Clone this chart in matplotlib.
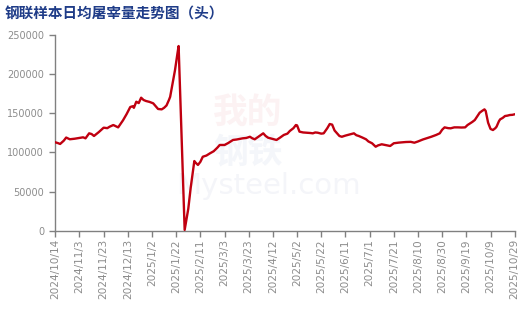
import matplotlib
matplotlib.use("Agg")
import matplotlib.pyplot as plt
import pandas as pd

dates = [
    "2024-10-14", "2024-10-16", "2024-10-18", "2024-10-21", "2024-10-23", "2024-10-26", "2024-10-30",
    "2024-11-03", "2024-11-06", "2024-11-08", "2024-11-11", "2024-11-13", "2024-11-15", "2024-11-19",
    "2024-11-23", "2024-11-26", "2024-11-28", "2024-12-01", "2024-12-03", "2024-12-05", "2024-12-09",
    "2024-12-12", "2024-12-15", "2024-12-17", "2024-12-18", "2024-12-20", "2024-12-22", "2024-12-24",
    "2024-12-26", "2024-12-28", "2024-12-31", "2025-01-03", "2025-01-05", "2025-01-07", "2025-01-10",
    "2025-01-12", "2025-01-14", "2025-01-16", "2025-01-17", "2025-01-19", "2025-01-20", "2025-01-21",
    "2025-01-22", "2025-01-23", "2025-01-24", "2025-01-29", "2025-02-01", "2025-02-03", "2025-02-06",
    "2025-02-07", "2025-02-09", "2025-02-11", "2025-02-13", "2025-02-16", "2025-02-19", "2025-02-22",
    "2025-02-25", "2025-02-27", "2025-03-03", "2025-03-06", "2025-03-10", "2025-03-13", "2025-03-18",
    "2025-03-21", "2025-03-24", "2025-03-26", "2025-03-28", "2025-03-31", "2025-04-02", "2025-04-04",
    "2025-04-06", "2025-04-08", "2025-04-11", "2025-04-15", "2025-04-18", "2025-04-21", "2025-04-24",
    "2025-04-26", "2025-04-29", "2025-05-01", "2025-05-02", "2025-05-04", "2025-05-07", "2025-05-10",
    "2025-05-13", "2025-05-15", "2025-05-17", "2025-05-19", "2025-05-22", "2025-05-24", "2025-05-27",
    "2025-05-29", "2025-05-31", "2025-06-02", "2025-06-04", "2025-06-06", "2025-06-08", "2025-06-11",
    "2025-06-13", "2025-06-16", "2025-06-18", "2025-06-20", "2025-06-22", "2025-06-25", "2025-06-28",
    "2025-06-30", "2025-07-03", "2025-07-06", "2025-07-08", "2025-07-11", "2025-07-14", "2025-07-18",
    "2025-07-21", "2025-07-25", "2025-07-31", "2025-08-04", "2025-08-07", "2025-08-10", "2025-08-14",
    "2025-08-17", "2025-08-21", "2025-08-25", "2025-08-28", "2025-08-30", "2025-09-01", "2025-09-04",
    "2025-09-06", "2025-09-09", "2025-09-12", "2025-09-15", "2025-09-18", "2025-09-20", "2025-09-22",
    "2025-09-24", "2025-09-26", "2025-09-28", "2025-09-30", "2025-10-02", "2025-10-04", "2025-10-05",
    "2025-10-06", "2025-10-07", "2025-10-09", "2025-10-11", "2025-10-13", "2025-10-14", "2025-10-16",
    "2025-10-17", "2025-10-19", "2025-10-21", "2025-10-23", "2025-10-25", "2025-10-27", "2025-10-29",
]

slaughter = [
    112900, 112000, 110800, 115000, 119000, 116800, 117500,
    118500, 119300, 118000, 124400, 123500, 121000, 126000,
    131600, 131000, 132900, 135000, 133500, 132000, 141000,
    149000, 158000, 159000, 157000, 164800, 163000, 169900,
    167000, 165700, 164500, 162700, 159000, 155500, 155000,
    157000, 160000, 167000, 171000, 188000, 196000, 205000,
    216000, 226000, 235900, 1000, 28000, 55000, 89000,
    87000, 84000, 88000, 94500, 96000, 98900, 101500,
    106000, 109500, 109500, 112000, 115900, 116500, 118000,
    118500, 120000, 118000, 116800, 120000, 122000, 124400,
    121000, 118800, 117500, 115900, 119000, 122300, 124000,
    127400, 131000, 135000, 134500, 126500, 125500, 125200,
    124800, 124400, 125500, 125200, 124000, 124400, 131000,
    136300, 135500, 128000, 124400, 121000, 120000, 121500,
    122300, 123500, 124400, 122000, 121000, 119000, 116800,
    114000, 111700, 107300, 109000, 110400, 109500, 108200,
    111700, 112500, 113300, 113500, 112400, 114000, 116500,
    118000, 120000, 122300, 124400, 129000, 132000, 131000,
    130800, 132000, 132000, 131800, 132000, 135000, 137000,
    139000, 141400, 146000, 150700, 153000, 155000, 153000,
    145600, 138000, 130000, 128600, 131000, 132900, 140000,
    142300, 144000, 146500, 147000, 147800, 148000, 148700,
]

tick_labels = [
    "2024/10/14", "2024/11/3", "2024/11/23", "2024/12/13", "2025/1/2", "2025/1/22",
    "2025/2/11", "2025/3/3", "2025/3/23", "2025/4/12", "2025/5/2", "2025/5/22",
    "2025/6/11", "2025/7/1", "2025/7/21", "2025/8/10", "2025/8/30", "2025/9/19",
    "2025/10/9", "2025/10/29",
]
y_ticks = [0, 50000, 100000, 150000, 200000, 250000]

title = "钢联样本日均屠宰量走势图（头）"

x = pd.to_datetime(dates)
tick_pos = pd.to_datetime([t.replace("/", "-") for t in tick_labels])

W, H = 531, 309
fig = plt.figure(figsize=(W / 100, H / 100), dpi=100)
fig.patch.set_facecolor("white")
ax = fig.add_axes([55.3 / W, 1 - 230.7 / H, (514.7 - 55.3) / W, (230.7 - 35) / H])

# very faint watermark, behind the line
wm_font = ["Noto Sans CJK SC", "DejaVu Sans"]
ax.text(248 / W, 1 - 112 / H, "我的", fontsize=25, color="#fcf2f3", ha="center", va="center",
        family=wm_font, fontweight="bold", transform=fig.transFigure, zorder=1)
ax.text(248 / W, 1 - 152 / H, "钢铁", fontsize=25, color="#f4f6fa", ha="center", va="center",
        family=wm_font, fontweight="bold", transform=fig.transFigure, zorder=1)
ax.text(268 / W, 1 - 186 / H, "Mysteel.com", fontsize=21, color="#f4f5f9", ha="center", va="center",
        family=["DejaVu Sans"], transform=fig.transFigure, zorder=1)

ax.plot(x, slaughter, color="#C00010", linewidth=1.7, solid_joinstyle="round", zorder=3)

ax.set_xlim(pd.Timestamp("2024-10-14"), pd.Timestamp("2025-10-29"))
ax.set_ylim(0, 250000)
ax.set_xticks(tick_pos)
ax.set_xticklabels(tick_labels, rotation=90, fontsize=7.6, color="#8c8c8c", family="DejaVu Sans")
ax.set_yticks(y_ticks)
ax.set_yticklabels([str(v) for v in y_ticks], fontsize=7.0, color="#8c8c8c", family="DejaVu Sans")

for s in ["top", "right"]:
    ax.spines[s].set_visible(False)
for s in ["left", "bottom"]:
    ax.spines[s].set_color("#808080")
    ax.spines[s].set_linewidth(1.0)
ax.tick_params(axis="both", colors="#808080", length=4, width=1.0, pad=3)
ax.tick_params(axis="x", labelcolor="#8c8c8c", pad=2)
ax.tick_params(axis="y", labelcolor="#8c8c8c", pad=4)

fig.text(5 / W, 1 - 14 / H, title, fontsize=10.5, fontweight="bold", color="#1F3C88",
         ha="left", va="center", family=["Noto Sans CJK SC", "DejaVu Sans"])

fig.savefig("out.png", dpi=100, facecolor="white")
